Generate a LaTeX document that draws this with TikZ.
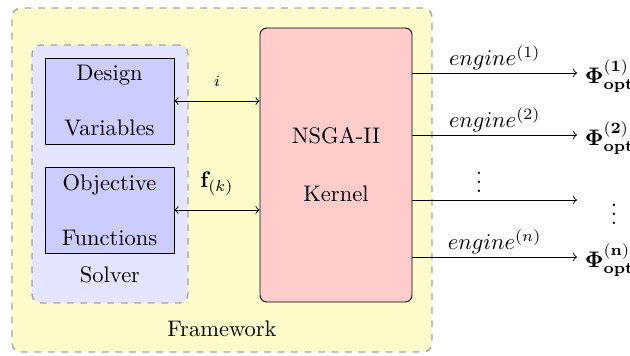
\documentclass[tikz,border=0pt]{standalone}
\usepackage{amsmath}
\begin{document}
\begin{tikzpicture}[x=0.4444pt,y=-0.4444pt,
  outerbox/.style={draw=gray!70, dashed, semithick, rounded corners=4pt, fill=yellow!20, inner sep=0pt},
  solverbox/.style={draw=gray!70, dashed, semithick, rounded corners=4pt, fill=blue!10, inner sep=0pt},
  varbox/.style={draw=black, fill=blue!20, align=center, inner sep=0pt, minimum width=129*0.4444pt, minimum height=86*0.4444pt},
  kernelbox/.style={draw=black, fill=red!20, align=center, rounded corners=3pt, inner sep=0pt, minimum width=152*0.4444pt, minimum height=274*0.4444pt},
  lbl/.style={inner sep=0pt},
  >=to]
\useasboundingbox (0,0) rectangle (630,355);
\node[outerbox, minimum width=420*0.4444pt, minimum height=344*0.4444pt] (fw) at (222,180) {};
\node[solverbox, minimum width=156*0.4444pt, minimum height=258*0.4444pt] (solver) at (110,174) {};
\node[varbox] (dv) at (109.5,101) {Design\\[12.4pt]Variables};
\node[varbox] (of) at (109.5,210) {Objective\\[12.4pt]Functions};
\node[kernelbox] (kernel) at (336,165) {NSGA-II\\[13.8pt]Kernel};
\node[lbl] (solverlbl) at (110,275) {Solver};
\node[lbl] (fwlbl) at (222,329) {Framework};

\draw[<->] (dv.east) -- (dv.east -| kernel.west) node[midway, above=3pt] (ilbl) {\scriptsize $i$};
\draw[<->] (of.east) -- (of.east -| kernel.west) node[midway, above=3pt] (flbl) {$\mathbf{f}_{(k)}$};

\coordinate (e1) at (577,73);
\coordinate (e2) at (577,135);
\coordinate (e3) at (577,200);
\coordinate (e4) at (577,257);
\draw[->] (e1 -| kernel.east) -- (e1) node[midway, above, yshift=-2pt] (en1) {$engine^{(1)}$};
\draw[->] (e2 -| kernel.east) -- (e2) node[midway, above, yshift=-2pt] (en2) {$engine^{(2)}$};
\draw[->] (e3 -| kernel.east) -- (e3) node[midway, above, xshift=-7pt] (en3) {$\vdots$};
\draw[->] (e4 -| kernel.east) -- (e4) node[midway, above, yshift=-2pt] (en4) {$engine^{(n)}$};
\node[anchor=west] (p1) at ([yshift=-0.4444*3pt]e1) {$\mathbf{\Phi^{(1)}_{opt}}$};
\node[anchor=west] (p2) at ([yshift=-0.4444*3pt]e2) {$\mathbf{\Phi^{(2)}_{opt}}$};
\node (p3) at (614,208) {$\vdots$};
\node[anchor=west] (p4) at ([yshift=-0.4444*3pt]e4) {$\mathbf{\Phi^{(n)}_{opt}}$};
\end{tikzpicture}
\end{document}
